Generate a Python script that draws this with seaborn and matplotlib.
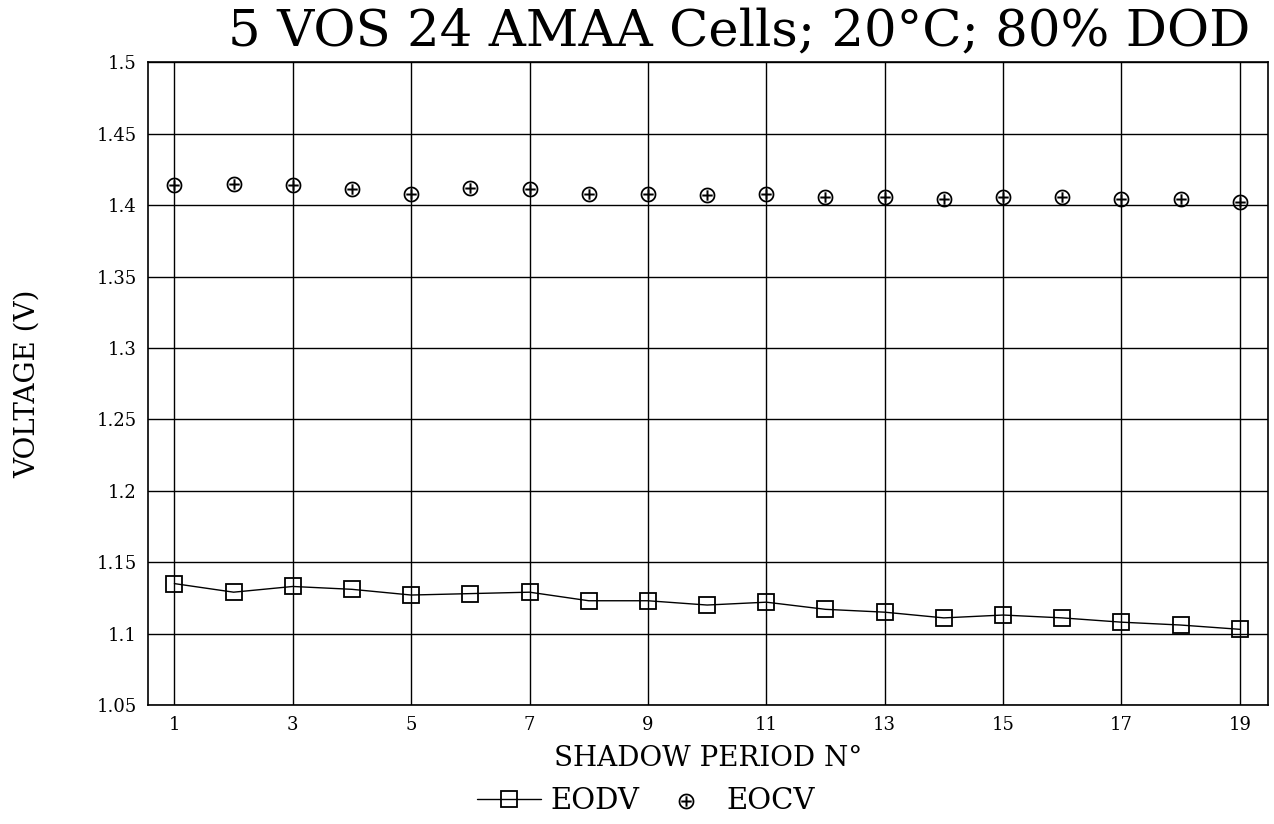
import numpy as np
import pandas as pd
import matplotlib
matplotlib.use("Agg")
import matplotlib.pyplot as plt
import seaborn as sns

# data
periods = list(range(1, 20))
eodv = [1.135, 1.129, 1.133, 1.131, 1.127, 1.128, 1.129, 1.123, 1.123, 1.120,
        1.122, 1.117, 1.115, 1.111, 1.113, 1.111, 1.108, 1.106, 1.103]
eocv = [1.414, 1.415, 1.414, 1.411, 1.408, 1.412, 1.411, 1.408, 1.408, 1.407,
        1.408, 1.406, 1.406, 1.404, 1.406, 1.406, 1.404, 1.404, 1.402]
y_ticks = [1.05, 1.1, 1.15, 1.2, 1.25, 1.3, 1.35, 1.4, 1.45, 1.5]
y_labels = ["1.05", "1.1", "1.15", "1.2", "1.25", "1.3", "1.35", "1.4", "1.45", "1.5"]
x_ticks = [1, 3, 5, 7, 9, 11, 13, 15, 17, 19]

df = pd.DataFrame({"period": periods, "EODV": eodv, "EOCV": eocv})

sns.set_style("white")
plt.rcParams["font.family"] = ["DejaVu Serif"]
plt.rcParams["text.color"] = "black"
plt.rcParams["axes.labelcolor"] = "black"
plt.rcParams["xtick.color"] = "black"
plt.rcParams["ytick.color"] = "black"

fig = plt.figure(figsize=(12.74, 8.24), dpi=100)
ax = fig.add_axes([0.116, 0.1444, 0.879, 0.780])

sns.lineplot(data=df, x="period", y="EODV", ax=ax, color="black", lw=1.0,
             marker="s", markersize=11, markerfacecolor="none",
             markeredgecolor="black", markeredgewidth=1.3, label="EODV")
sns.scatterplot(data=df, x="period", y="EOCV", ax=ax, color="black",
                marker=r"$\oplus$", s=130, linewidth=0, label="EOCV")

ax.set_xlim(0.55, 19.47)
ax.set_ylim(1.05, 1.5)
ax.set_xticks(x_ticks)
ax.set_xticklabels([str(v) for v in x_ticks], fontsize=13)
ax.set_yticks(y_ticks)
ax.set_yticklabels(y_labels, fontsize=13)
ax.grid(True, color="black", lw=1.0)
for s in ax.spines.values():
    s.set_color("black")
    s.set_linewidth(1.2)
ax.tick_params(length=0, pad=8)

ax.set_xlabel("SHADOW PERIOD N°", fontsize=20, labelpad=8)
ax.set_ylabel("VOLTAGE (V)", fontsize=20, labelpad=40)
fig.text(0.58, 0.962, "5 VOS 24 AMAA Cells; 20°C; 80% DOD", fontsize=37,
         ha="center", va="center")

ax.legend(loc="upper center", bbox_to_anchor=(0.445, -0.1), ncol=2,
          frameon=False, fontsize=21, handlelength=2.2, columnspacing=0.5,
          handletextpad=0.3, borderpad=0.1)

fig.savefig("out.png", dpi=100)
